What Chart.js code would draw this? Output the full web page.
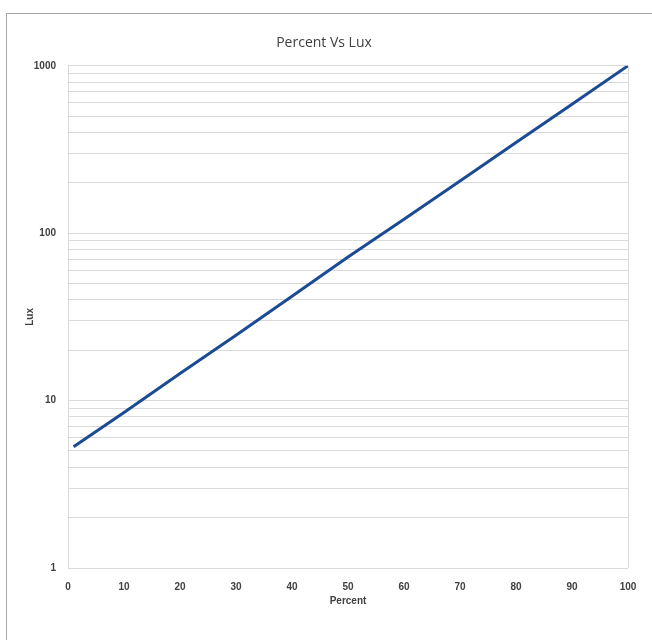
<!DOCTYPE html>
<html>
<head>
<meta charset="utf-8">
<script src="https://cdn.jsdelivr.net/npm/chart.js@4/dist/chart.umd.min.js"></script>
<style>
  html, body { margin: 0; padding: 0; background: #fff; }
  #wrap { position: relative; width: 652px; height: 640px; overflow: hidden; }
  #frame { position: absolute; left: 6px; top: 13px; width: 700px; height: 700px;
           border-top: 1px solid #a6a6a6; border-left: 1px solid #a6a6a6; }
  canvas { position: absolute; left: 0; top: 0; }
</style>
</head>
<body>
<div id="wrap">
  <div id="frame"></div>
  <canvas id="chart1" width="652" height="640"></canvas>
</div>
<script>
// values
const percent = [1, 10, 20, 30, 40, 50, 60, 70, 80, 90, 100];
const lux = [5.3, 8.5, 14.5, 24.6, 42, 72, 121, 205, 348, 590, 1000];

const xTicks = [0, 10, 20, 30, 40, 50, 60, 70, 80, 90, 100];
const yTicks = [1, 2, 3, 4, 5, 6, 7, 8, 9,
                10, 20, 30, 40, 50, 60, 70, 80, 90,
                100, 200, 300, 400, 500, 600, 700, 800, 900, 1000];
const yLabels = [1, 10, 100, 1000];

const gridColor = '#d9d9d9';
const tickFont = { family: 'Liberation Sans', size: 10, weight: 'bold' };

const ctx = document.getElementById('chart1').getContext('2d');
const myChart = new Chart(ctx, {
    type: 'line',
    data: {
        datasets: [{
            data: percent.map((p, i) => ({ x: p, y: lux[i] })),
            borderColor: '#1c4b95',
            borderWidth: 3,
            pointRadius: 0,
            tension: 0,
            fill: false
        }]
    },
    options: {
        responsive: false,
        animation: false,
        layout: { padding: { left: 20, right: 24, top: 0, bottom: 29 } },
        plugins: {
            legend: { display: false },
            tooltip: { enabled: false },
            title: {
                display: true,
                text: 'Percent Vs Lux',
                color: '#404040',
                font: { family: 'Open Sans', size: 14, weight: 'normal' },
                padding: { top: 35, bottom: 14 }
            }
        },
        scales: {
            x: {
                type: 'linear',
                min: 0,
                max: 100,
                afterBuildTicks: axis => { axis.ticks = xTicks.map(v => ({ value: v })); },
                afterFit: scale => { scale.height = 43; },
                grid: {
                    drawTicks: false,
                    color: c => (c.tick && (c.tick.value === 0 || c.tick.value === 100)) ? gridColor : 'rgba(0,0,0,0)'
                },
                border: { display: false },
                ticks: { color: '#404040', font: tickFont, padding: 13, maxRotation: 0 },
                title: {
                    display: true,
                    text: 'Percent',
                    color: '#404040',
                    font: { family: 'Liberation Sans', size: 10, weight: 'bold' },
                    padding: { top: 2, bottom: 4 }
                }
            },
            y: {
                type: 'logarithmic',
                min: 1,
                max: 1000,
                afterBuildTicks: axis => { axis.ticks = yTicks.map(v => ({ value: v })); },
                afterFit: scale => { scale.width = 48; },
                grid: { drawTicks: false, color: gridColor },
                border: { display: false },
                ticks: {
                    color: '#404040',
                    font: tickFont,
                    padding: 12,
                    autoSkip: false,
                    callback: v => yLabels.includes(v) ? String(v) : ''
                },
                title: {
                    display: true,
                    text: 'Lux',
                    color: '#404040',
                    font: { family: 'Liberation Sans', size: 10, weight: 'bold' },
                    padding: { top: 4, bottom: 4 }
                }
            }
        }
    }
});
</script>
</body>
</html>
